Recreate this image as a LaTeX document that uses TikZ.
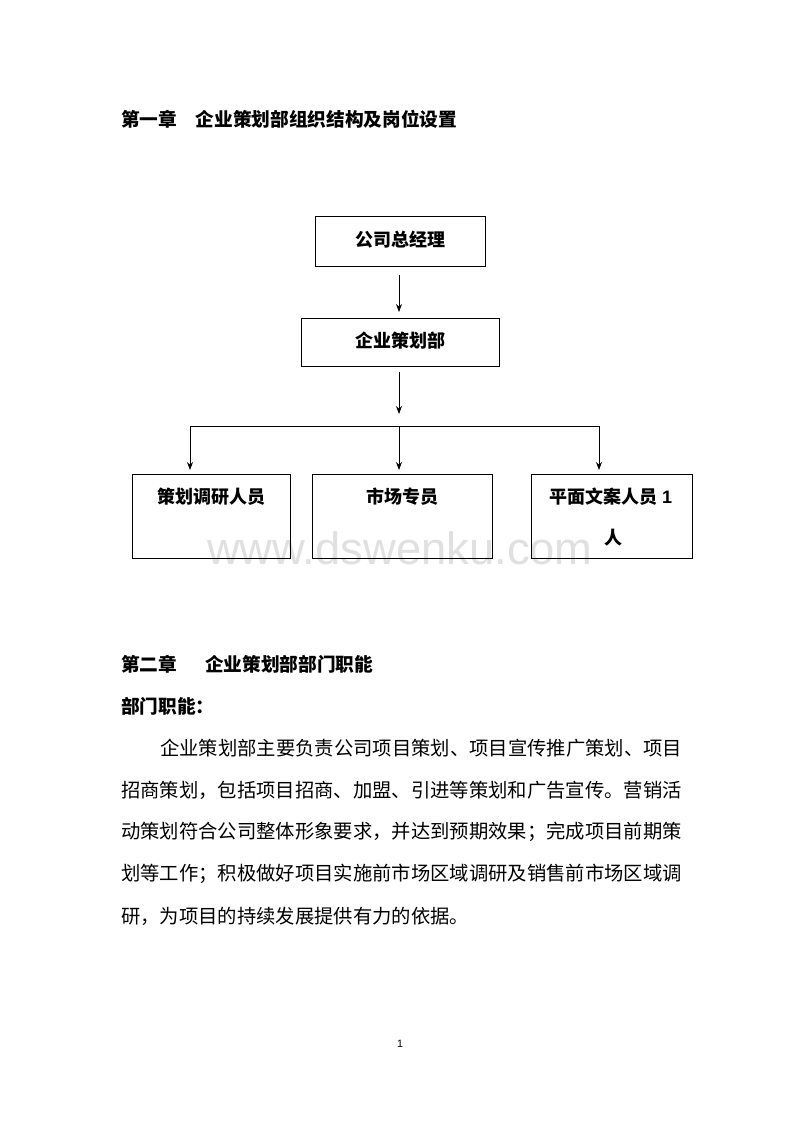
\documentclass[tikz,border=0pt]{standalone}
\usepackage{fontspec}
\setmainfont{Noto Sans CJK SC}
\newfontfamily\latin{Liberation Sans}
\usetikzlibrary{arrows.meta}
\begin{document}
\begin{tikzpicture}[x=0.75pt,y=-0.75pt,
  box/.style={draw,line width=0.6pt},
  arr/.style={-{Stealth[length=6pt,width=4.5pt]},line width=0.6pt},
  ln/.style={line width=0.6pt},
  lbl/.style={font=\fontsize{13.5pt}{16pt}\selectfont\bfseries,inner sep=0pt},
  head/.style={anchor=west,inner sep=0pt,font=\fontsize{14pt}{16pt}\selectfont\bfseries},
  para/.style={anchor=west,inner sep=0pt,font=\fontsize{14.5pt}{18pt}\selectfont}]
\useasboundingbox[fill=white] (0,0) rectangle (800,1132);
\node[anchor=center,inner sep=0pt,text=black!12,font=\latin\fontsize{34pt}{36pt}\selectfont] (wm) at (400,548) {www.dswenku.com};
\node[head] (h1) at (121,119) {第一章\quad 企业策划部组织结构及岗位设置};
\draw[box] (315,216) rectangle (485,266); \node[lbl] (a) at (400,240) {公司总经理};
\draw[box] (301,318) rectangle (499,366); \node[lbl] (b) at (400,341) {企业策划部};
\coordinate (a1) at (399,275); \coordinate (a2) at (399,312);
\draw[arr] (a1) -- (a2);
\coordinate (b1) at (399,372); \coordinate (b2) at (399,414);
\draw[arr] (b1) -- (b2);
\coordinate (l) at (190,426); \coordinate (r) at (599,426); \coordinate (m) at (399,426);
\draw[ln] (l) -- (r);
\coordinate (l2) at (190,470); \coordinate (m2) at (399,470); \coordinate (r2) at (599,470);
\draw[arr] (l) -- (l2); \draw[arr] (m) -- (m2); \draw[arr] (r) -- (r2);
\draw[box] (132,474) rectangle (290,558); \node[lbl] (c1) at (211,497) {策划调研人员};
\draw[box] (312,474) rectangle (492,558); \node[lbl] (c2) at (402,497) {市场专员};
\draw[box] (531,474) rectangle (692,558); \node[lbl] (c3) at (611,497) {平面文案人员 {\latin\bfseries 1}};
\node[lbl] (c3b) at (613,538) {人};
\node[head] (h2) at (121,664) {第二章\hspace{1.5em}企业策划部部门职能};
\node[head] (h3) at (121,706) {部门职能：};
\node[para] (p1) at (160,748) {企业策划部主要负责公司项目策划、项目宣传推广策划、项目};
\node[para] (p2) at (121,790) {招商策划，包括项目招商、加盟、引进等策划和广告宣传。营销活};
\node[para] (p3) at (121,832) {动策划符合公司整体形象要求，并达到预期效果；完成项目前期策};
\node[para] (p4) at (121,874) {划等工作；积极做好项目实施前市场区域调研及销售前市场区域调};
\node[para] (p5) at (121,916) {研，为项目的持续发展提供有力的依据。};
\node[inner sep=0pt,font=\latin\fontsize{8pt}{9pt}\selectfont] (pg) at (400,1044) {1};
\end{tikzpicture}
\end{document}
